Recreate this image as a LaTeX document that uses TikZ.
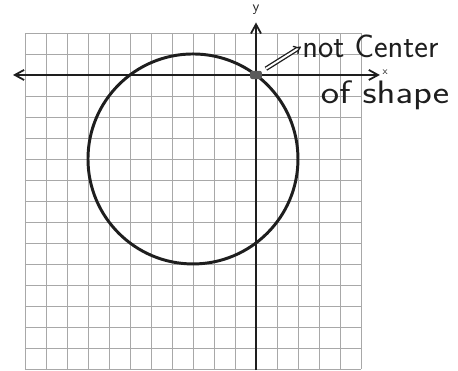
\documentclass[tikz,border=0pt]{standalone}
\usepackage{xcolor}
\usepackage{tikz}
\usetikzlibrary{arrows.meta}
\definecolor{inkc}{HTML}{1E1E1E}
\definecolor{gridc}{HTML}{A8A8A8}
\definecolor{dotc}{HTML}{5A5A5A}
\tikzset{
  gridl/.style={gridc,line width=0.6pt},
  axis/.style={inkc,line width=1.2pt},
  barb/.style={arrows={-Straight Barb[length=2.2mm,width=2.4mm]}},
  bbarb/.style={arrows={Straight Barb[length=2.2mm,width=2.4mm]-Straight Barb[length=2.2mm,width=2.4mm]}},
  hand/.style={inkc,font=\sffamily\fontsize{22}{24}\selectfont,inner sep=0pt},
  handar/.style={inkc,double,double distance=1.3pt,line width=0.9pt,-{Implies},shorten <=3pt,shorten >=1pt}
}
\begin{document}
\begin{tikzpicture}[x=0.5cm,y=0.5cm]
\useasboundingbox (-12.19,-14.05) rectangle (9.62,3.57);
\fill[white] (-12.19,-14.05) rectangle (9.62,3.57);
\draw[gridl,step=0.5cm] (-11,-14) grid (5,2);
\draw[axis,bbarb] (-11.57,0) -- (5.9,0);
\draw[axis,barb] (0,-14.05) -- (0,2.5);
\draw[inkc,line width=2pt] (-3,-4) circle (5);
\node[fill=dotc,rounded corners=1.5pt,minimum width=0.28cm,minimum height=0.2cm,inner sep=0pt] (o) at (0,0) {};
\node[inkc,font=\sffamily] (ylab) at (0,3.1) {y};
\node[inkc,font=\sffamily\scriptsize,inner sep=0.5pt] (xlab) at (6.15,0.15) {x};
\node[hand] (nc) at (5.45,1.38) {not Center};
\node[hand,xscale=1.2] (os) at (6.15,-0.98) {of shape};
\draw[handar] (o) -- (nc.west);
\end{tikzpicture}
\end{document}
